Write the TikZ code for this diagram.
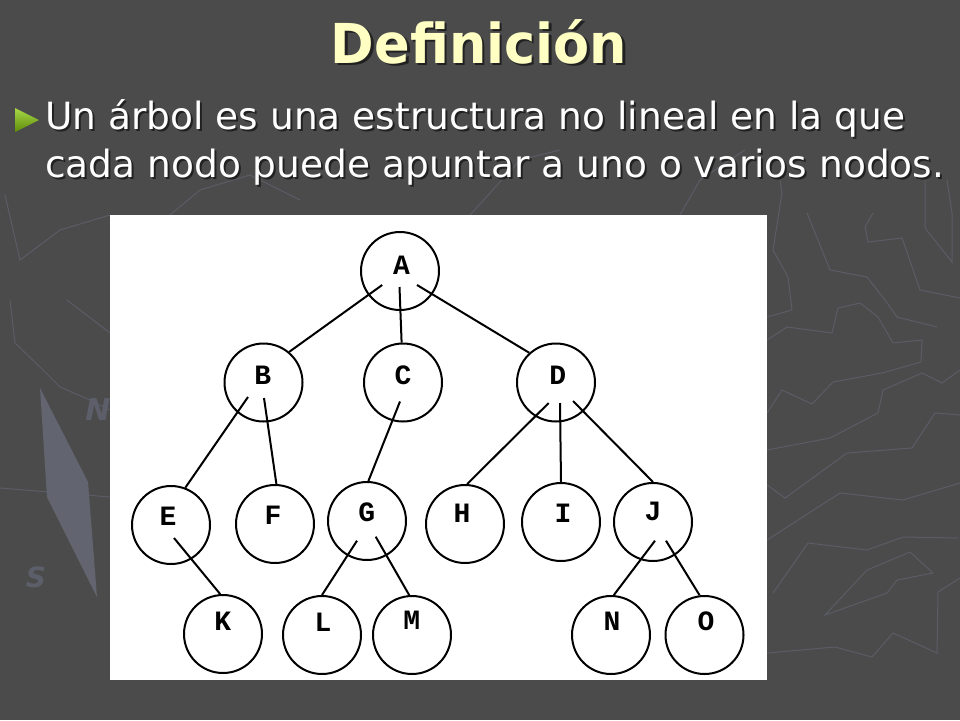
\documentclass[tikz,border=0pt]{standalone}
\usepackage{fontspec}
\setmainfont{DejaVu Sans}
\newfontfamily\titlefont[FakeStretch=0.955]{DejaVu Sans}
\newfontfamily\bodyfont{DejaVu Sans}
\newfontfamily\treefont{Liberation Mono}
\definecolor{bgcol}{HTML}{4B4B4B}
\definecolor{mapcol}{HTML}{5B5C65}
\definecolor{needlecol}{HTML}{62656F}
\definecolor{lettercol}{HTML}{5C5F69}
\definecolor{titlecol}{HTML}{FFFFC4}
\definecolor{bulletlight}{HTML}{A8D848}
\definecolor{bulletdark}{HTML}{5E8C0A}
\tikzset{
  mapline/.style={draw=mapcol, line width=1pt},
  tn/.style={circle, draw=black, line width=2pt, minimum size=78pt, inner sep=0pt, fill=white},
  lab/.style={font=\treefont\bfseries\fontsize{28}{28}\selectfont, text=black, inner sep=0pt, anchor=center},
  edge/.style={draw=black, line width=2pt},
  shadowtxt/.style={text=black, opacity=0.55},
}
\begin{document}
\begin{tikzpicture}[x=1pt,y=-1pt]
\fill[bgcol] (0,0) rectangle (960,720);
\useasboundingbox (0,0) rectangle (960,720);
% background map texture
\draw[mapline] (767,317) -- (792,310) -- (788,277) -- (773,250) -- (782,193) -- (780,180);
\draw[mapline] (767,340) -- (787,327) -- (832,333) -- (838,308) -- (860,303) -- (878,317) -- (893,343) -- (922,340) -- (921,362) -- (882,373) -- (833,382) -- (812,404) -- (782,390) -- (767,413);
\draw[mapline] (767,450) -- (830,438) -- (878,413) -- (883,390) -- (922,373) -- (942,383) -- (960,370);
\draw[mapline] (767,485) -- (785,498) -- (847,453) -- (912,448) -- (935,413) -- (960,415);
\draw[mapline] (767,540) -- (840,493) -- (903,500) -- (960,483);
\draw[mapline] (773,593) -- (808,543) -- (867,550) -- (903,537) -- (958,538);
\draw[mapline] (825,615) -- (867,570) -- (910,552) -- (933,573) -- (897,580) -- (887,593) -- cycle;
\draw[mapline] (767,653) -- (835,647) -- (872,657) -- (893,633) -- (937,653) -- (938,592) -- (960,578);
\draw[mapline] (807,213) -- (830,270) -- (867,277) -- (885,300) -- (897,317) -- (937,327);
\draw[mapline] (873,213) -- (865,227) -- (868,242) -- (902,238) -- (920,290) -- (960,298);
\draw[mapline] (925,180) -- (925,228) -- (952,262) -- (952,213) -- (947,180);
\draw[mapline] (10,300) -- (15,343) -- (40,367) -- (60,387) -- (90,400) -- (110,410);
\draw[mapline] (0,488) -- (110,497);
\draw[mapline] (67,300) -- (110,333);
\draw[mapline] (5,195) -- (20,260) -- (60,230) -- (110,215);
\draw[mapline] (170,215) -- (200,190) -- (250,175) -- (300,200);
\draw[mapline] (470,215) -- (520,160) -- (560,150);
\draw[mapline] (680,215) -- (700,180) -- (745,150);
\fill[needlecol] (40,388) -- (88,482) -- (97,597) -- (47,497) -- cycle;
\node[text=lettercol, font=\bfseries\itshape\fontsize{30}{30}\selectfont] (nlet) at (98,410) {N};
\node[text=lettercol, font=\bfseries\itshape\fontsize{28}{28}\selectfont] (slet) at (36,577) {S};
% title
\node[shadowtxt, anchor=base] (titlesh) at (481.5,65.5) {\titlefont\bfseries\fontsize{55}{60}\selectfont Definición};
\node[text=titlecol, anchor=base] (title) at (479,63) {\titlefont\bfseries\fontsize{55}{60}\selectfont Definición};
% bullet
\shade[top color=bulletlight, bottom color=bulletdark] (15,108) -- (39,120) -- (15,132) -- cycle;
% body text
\node[shadowtxt, anchor=base west, inner sep=0pt] (l1sh) at (47,131) {\bodyfont\fontsize{37.5}{48}\selectfont Un árbol es una estructura no lineal en la que};
\node[text=white, anchor=base west, inner sep=0pt] (l1) at (45,129) {\bodyfont\fontsize{37.5}{48}\selectfont Un árbol es una estructura no lineal en la que};
\node[shadowtxt, anchor=base west, inner sep=0pt] (l2sh) at (47,179) {\bodyfont\fontsize{37.5}{48}\selectfont cada nodo puede apuntar a uno o varios nodos.};
\node[text=white, anchor=base west, inner sep=0pt] (l2) at (45,177) {\bodyfont\fontsize{37.5}{48}\selectfont cada nodo puede apuntar a uno o varios nodos.};
% white panel
\fill[white] (110,215) rectangle (767,680);
% tree nodes
\node[tn, label={[lab,xshift=1.5pt,yshift=6pt]center:A}] (A) at (400,271) {};
\node[tn, label={[lab,xshift=-0.8pt,yshift=7.5pt]center:B}] (B) at (263.5,382.5) {};
\node[tn, label={[lab,yshift=7.5pt]center:C}] (C) at (403,382.5) {};
\node[tn, label={[lab,xshift=1.7pt,yshift=7.5pt]center:D}] (D) at (556,382.5) {};
\node[tn, label={[lab,xshift=-3pt,yshift=8.3pt]center:E}] (E) at (171,525) {};
\node[tn, label={[lab,xshift=-2pt,yshift=9pt]center:F}] (F) at (275,524) {};
\node[tn, label={[lab,xshift=-0.3pt,yshift=8.3pt]center:G}] (G) at (367,521) {};
\node[tn, label={[lab,xshift=-3pt,yshift=11pt]center:H}] (H) at (465,524) {};
\node[tn, label={[lab,xshift=2pt,yshift=9pt]center:I}] (I) at (561,522) {};
\node[tn, label={[lab,yshift=10.3pt]center:J}] (J) at (653,522) {};
\node[tn, label={[lab,xshift=-0.3pt,yshift=12.3pt]center:K}] (K) at (223,634) {};
\node[tn, label={[lab,xshift=1pt,yshift=12.3pt]center:L}] (L) at (322,635) {};
\node[tn, label={[lab,xshift=-0.3pt,yshift=15pt]center:M}] (M) at (412,635) {};
\node[tn, label={[lab,xshift=1pt,yshift=13.3pt]center:N}] (N) at (611,635) {};
\node[tn, label={[lab,xshift=1.5pt,yshift=13.3pt]center:O}] (O) at (704.5,635) {};
% edges
\draw[edge] ([shift={(-17.8,14)}]A.center) -- (B.50);
\draw[edge] ([shift={(-0.5,16)}]A.center) -- (C.92);
\draw[edge] ([shift={(17,14)}]A.center) -- (D.132);
\draw[edge] ([shift={(-15.5,14.5)}]B.center) -- (E.69);
\draw[edge] ([shift={(0.5,15.5)}]B.center) -- (F.88);
\draw[edge] ([shift={(-3,19)}]C.center) -- (G.88);
\draw[edge] ([shift={(-7.3,20.5)}]D.center) -- (H.87);
\draw[edge] ([shift={(4,20.5)}]D.center) -- (I.north);
\draw[edge] ([shift={(17,18.5)}]D.center) -- (J.north);
\draw[edge] ([shift={(3,13)}]E.center) -- (K.94);
\draw[edge] ([shift={(-10,19.7)}]G.center) -- (L.north);
\draw[edge] ([shift={(8.7,15.7)}]G.center) -- (M.94);
\draw[edge] ([shift={(2,18.7)}]J.center) -- (N.86);
\draw[edge] ([shift={(13,18.7)}]J.center) -- (O.97);
\end{tikzpicture}
\end{document}
